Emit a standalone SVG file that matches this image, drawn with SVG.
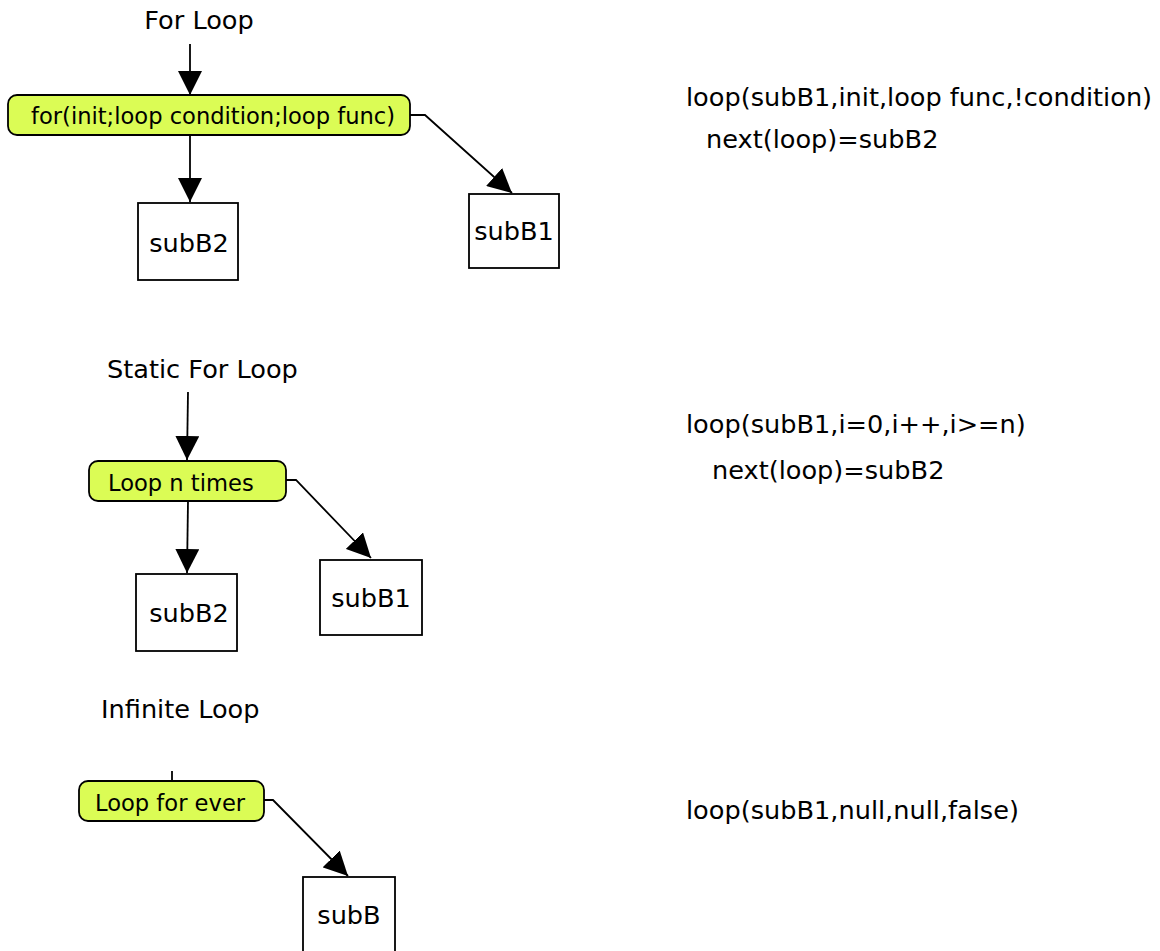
<svg xmlns="http://www.w3.org/2000/svg" width="1160" height="951" viewBox="0 0 1160 951">
<style>
text{font-family:"DejaVu Sans",sans-serif;fill:#000}
.t{font-size:25.6px}
.n{font-size:22.6px}
.g{fill:#dbfc55;stroke:#000;stroke-width:1.8}
.b{fill:#fff;stroke:#000;stroke-width:1.8}
.c{fill:none;stroke:#000;stroke-width:1.8}
</style>
<defs>
<marker id="ah2" markerWidth="24" markerHeight="24" viewBox="0 0 24 24" refX="24" refY="12" orient="auto" markerUnits="userSpaceOnUse">
<path d="M0,0L24,12L0,24z" fill="#000"/>
</marker>
</defs>
<g id="labels">
<text class="t" x="199" y="29" text-anchor="middle">For Loop</text>
<text class="t" x="107" y="378">Static For Loop</text>
<text class="t" x="101" y="718">Infinite Loop</text>
<text class="t" x="686" y="106">loop(subB1,init,loop func,!condition)</text>
<text class="t" x="706" y="148">next(loop)=subB2</text>
<text class="t" x="686" y="433">loop(subB1,i=0,i++,i&gt;=n)</text>
<text class="t" x="712" y="479">next(loop)=subB2</text>
<text class="t" x="686" y="819">loop(subB1,null,null,false)</text>
</g>
<g id="connectors">
<path class="c" d="M190,44V95" marker-end="url(#ah2)"/>
<path class="c" d="M190,135V202" marker-end="url(#ah2)"/>
<path class="c" d="M410,115H425L512,193" marker-end="url(#ah2)"/>
<path class="c" d="M188,392L187,460" marker-end="url(#ah2)"/>
<path class="c" d="M188,501L187,573" marker-end="url(#ah2)"/>
<path class="c" d="M286,480H296L371,558" marker-end="url(#ah2)"/>
<path class="c" d="M172,771V781"/>
<path class="c" d="M264,800H273L348,876" marker-end="url(#ah2)"/>
</g>
<g id="node-for">
<rect class="g" x="8" y="95" width="402" height="40" rx="9"/>
<text class="n" x="31" y="124">for(init;loop condition;loop func)</text>
</g>
<g id="node-for-subB2">
<rect class="b" x="138" y="203" width="100" height="77"/>
<text class="t" x="189" y="252" text-anchor="middle">subB2</text>
</g>
<g id="node-for-subB1">
<rect class="b" x="469" y="194" width="90" height="74"/>
<text class="t" x="514" y="240" text-anchor="middle">subB1</text>
</g>
<g id="node-static">
<rect class="g" x="89" y="461" width="197" height="40" rx="9"/>
<text class="n" x="108" y="491">Loop n times</text>
</g>
<g id="node-static-subB2">
<rect class="b" x="136" y="574" width="101" height="77"/>
<text class="t" x="189" y="622" text-anchor="middle">subB2</text>
</g>
<g id="node-static-subB1">
<rect class="b" x="320" y="560" width="102" height="75"/>
<text class="t" x="371" y="607" text-anchor="middle">subB1</text>
</g>
<g id="node-infinite">
<rect class="g" x="79" y="781" width="185" height="40" rx="9"/>
<text class="n" x="95" y="811">Loop for ever</text>
</g>
<g id="node-infinite-subB">
<rect class="b" x="303" y="877" width="92" height="80"/>
<text class="t" x="349" y="924" text-anchor="middle">subB</text>
</g>
</svg>
